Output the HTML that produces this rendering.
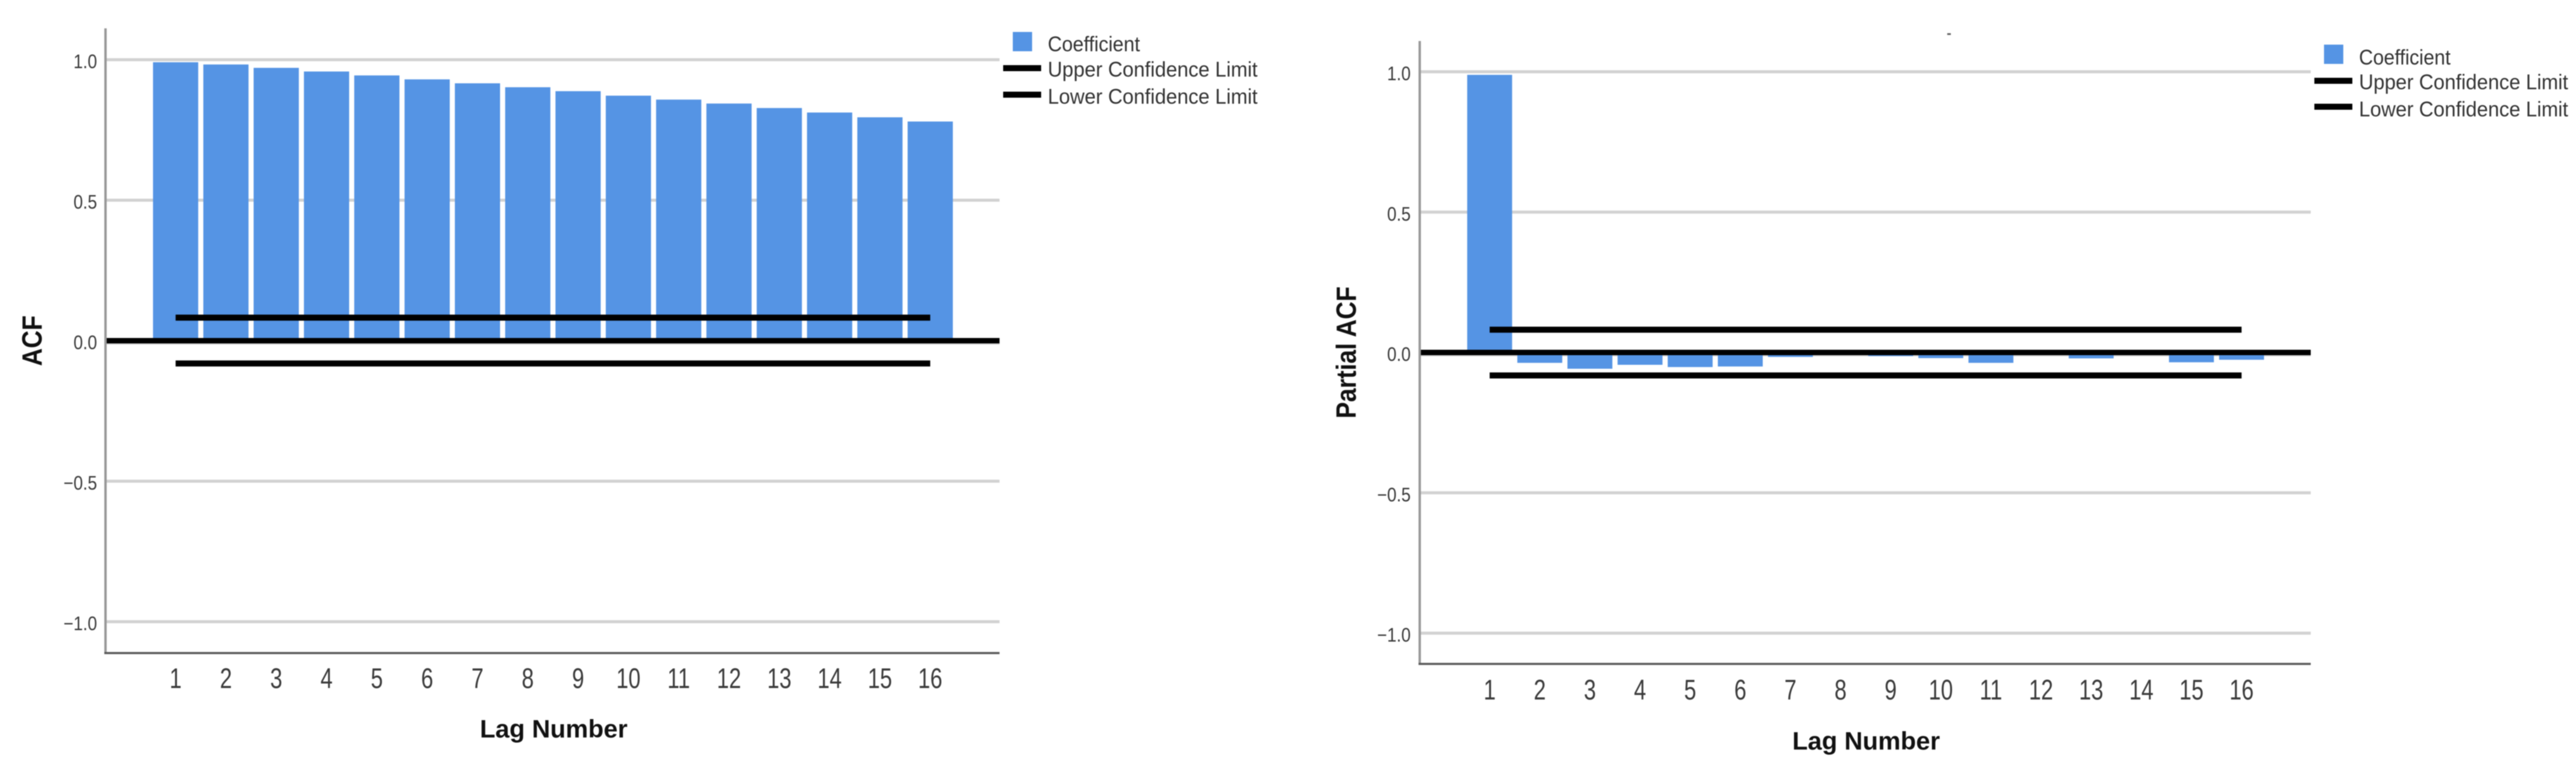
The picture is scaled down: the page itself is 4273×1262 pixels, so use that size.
<!DOCTYPE html>
<html lang="en">
<head>
<meta charset="utf-8">
<title>ACF and Partial ACF charts</title>
<style>
  html, body { margin: 0; padding: 0; background: #fff; width: 4273px; height: 1262px; overflow: hidden; }
  svg { display: block; filter: blur(0.9px); font-family: "Liberation Sans", Arial, sans-serif; }
  .tick { fill: #3a3a3a; }
  .legend-text { fill: #333; font-size: 35px; }
  .title { fill: #111; font-weight: bold; }
</style>
</head>
<body>
<svg id="figure" xmlns="http://www.w3.org/2000/svg" width="4273" height="1262" viewBox="0 0 4273 1262">
  <rect x="0" y="0" width="4273" height="1262" fill="#ffffff"/>
  <g id="acf-chart"></g>
  <g id="pacf-chart"></g>

  <g>
    <rect x="1680" y="53" width="32" height="32" fill="#5594e4"/>
    <text class="legend-text" x="1738" y="85" textLength="153" lengthAdjust="spacingAndGlyphs">Coefficient</text>
    <rect x="1664" y="108" width="63" height="10" fill="#000"/>
    <text class="legend-text" x="1738" y="127" textLength="348" lengthAdjust="spacingAndGlyphs">Upper Confidence Limit</text>
    <rect x="1664" y="152" width="63" height="10" fill="#000"/>
    <text class="legend-text" x="1738" y="172" textLength="348" lengthAdjust="spacingAndGlyphs">Lower Confidence Limit</text>
  </g>

  <g>
    <rect x="3855" y="74" width="32" height="32" fill="#5594e4"/>
    <text class="legend-text" x="3913" y="107" textLength="152" lengthAdjust="spacingAndGlyphs">Coefficient</text>
    <rect x="3839" y="129" width="63" height="10" fill="#000"/>
    <text class="legend-text" x="3913" y="148" textLength="347" lengthAdjust="spacingAndGlyphs">Upper Confidence Limit</text>
    <rect x="3839" y="172" width="63" height="10" fill="#000"/>
    <text class="legend-text" x="3913" y="193" textLength="347" lengthAdjust="spacingAndGlyphs">Lower Confidence Limit</text>
  </g>

  <text class="title" x="796" y="1223" font-size="42" textLength="245" lengthAdjust="spacingAndGlyphs">Lag Number</text>
  <text class="title" x="2973" y="1243" font-size="42" textLength="245" lengthAdjust="spacingAndGlyphs">Lag Number</text>
  <text class="title" transform="translate(69,607) rotate(-90)" font-size="46" textLength="84" lengthAdjust="spacingAndGlyphs">ACF</text>
  <text class="title" transform="translate(2249,694) rotate(-90)" font-size="46" textLength="219" lengthAdjust="spacingAndGlyphs">Partial ACF</text>
  <rect x="3230" y="55" width="6" height="3" fill="#666"/>
</svg>

<script>
const lags = [1, 2, 3, 4, 5, 6, 7, 8, 9, 10, 11, 12, 13, 14, 15, 16];
const yTickValues = [1.0, 0.5, 0.0, -0.5, -1.0];
const yTickLabels = ["1.0", "0.5", "0.0", "\u22120.5", "\u22121.0"];
const acfValues = [0.991, 0.983, 0.971, 0.958, 0.944, 0.930, 0.916, 0.902, 0.888, 0.872, 0.858, 0.844, 0.828, 0.812, 0.795, 0.780];
const acfUpper = [0.082, 0.082, 0.082, 0.082, 0.082, 0.082, 0.082, 0.082, 0.082, 0.082, 0.082, 0.082, 0.082, 0.082, 0.082, 0.082];
const acfLower = [-0.081, -0.081, -0.081, -0.081, -0.081, -0.081, -0.081, -0.081, -0.081, -0.081, -0.081, -0.081, -0.081, -0.081, -0.081, -0.081];
const pacfValues = [0.989, -0.037, -0.058, -0.044, -0.052, -0.050, -0.016, 0.002, -0.013, -0.020, -0.037, -0.002, -0.021, -0.003, -0.035, -0.026];
const pacfUpper = [0.081, 0.081, 0.081, 0.081, 0.081, 0.081, 0.081, 0.081, 0.081, 0.081, 0.081, 0.081, 0.081, 0.081, 0.081, 0.081];
const pacfLower = [-0.082, -0.082, -0.082, -0.082, -0.082, -0.082, -0.082, -0.082, -0.082, -0.082, -0.082, -0.082, -0.082, -0.082, -0.082, -0.082];

const SVG_NS = "http://www.w3.org/2000/svg";

function make(tag, parent, attrs) {
  const el = document.createElementNS(SVG_NS, tag);
  for (const key in attrs) el.setAttribute(key, attrs[key]);
  parent.appendChild(el);
  return el;
}

function drawChart(root, layout, values, upper, lower) {
  const xPos = function (lag) { return layout.firstX + (lag - lags[0]) * layout.pitch; };
  const yPos = function (v) { return layout.zeroY - v * layout.unitY; };

  // gridlines and y tick labels
  yTickValues.forEach(function (v, i) {
    const offset = v === 0 ? 2 : 0;
    const grid = make("line", root, {
      x1: layout.axisX, x2: layout.rightX, y1: yPos(v) + offset, y2: yPos(v) + offset,
      stroke: "#d2d2d2", "stroke-width": v === 0 ? 9 : 5
    });
    
    

    const label = make("text", root, {
      class: "tick", "font-size": 32, "text-anchor": "end",
      transform: "translate(" + layout.tickRight + "," + (yPos(v) + 14) + ") scale(0.88,1)"
    });
    label.textContent = yTickLabels[i];
    
    
  });

  // bars
  lags.forEach(function (lag, i) {
    const y0 = yPos(0);
    const yv = yPos(values[i]);
    const bar = make("rect", root, {
      x: xPos(lag) - layout.barWidth / 2,
      y: Math.min(y0, yv),
      width: layout.barWidth,
      height: Math.abs(y0 - yv),
      fill: "#5594e4"
    });
    
    

    const label = make("text", root, {
      class: "tick", "font-size": 47, "text-anchor": "middle",
      transform: "translate(" + xPos(lag) + "," + layout.xTickY + ") scale(0.77,1)"
    });
    label.textContent = String(lag);
    
    
  });

  // zero reference line
  const zero = make("line", root, {
    x1: layout.axisX, x2: layout.rightX, y1: yPos(0), y2: yPos(0),
    stroke: "#000", "stroke-width": 9
  });
  
  

  // confidence limits
  const toPoints = function (series) {
    return lags.map(function (lag, i) { return xPos(lag) + "," + yPos(series[i]); }).join(" ");
  };
  const upperLine = make("polyline", root, {
    points: toPoints(upper), fill: "none", stroke: "#000", "stroke-width": 10
  });
  
  

  const lowerLine = make("polyline", root, {
    points: toPoints(lower), fill: "none", stroke: "#000", "stroke-width": 10
  });
  
  

  // axes
  const yAxis = make("line", root, {
    x1: layout.axisX, x2: layout.axisX, y1: layout.axisTop, y2: layout.axisBottom + 1,
    stroke: "#999999", "stroke-width": 4
  });
  
  

  const xAxis = make("line", root, {
    x1: layout.axisX - 2, x2: layout.rightX, y1: layout.axisBottom, y2: layout.axisBottom,
    stroke: "#5a5a5a", "stroke-width": 3.5
  });
  
  
}

drawChart(document.getElementById("acf-chart"), {
  axisX: 175, rightX: 1658, axisTop: 47, axisBottom: 1083,
  zeroY: 565, unitY: 466, firstX: 291.3, pitch: 83.45, barWidth: 75,
  tickRight: 161, xTickY: 1141
}, acfValues, acfUpper, acfLower);

drawChart(document.getElementById("pacf-chart"), {
  axisX: 2355, rightX: 3833, axisTop: 68, axisBottom: 1101,
  zeroY: 584.5, unitY: 465.5, firstX: 2471, pitch: 83.15, barWidth: 74.5,
  tickRight: 2340, xTickY: 1160
}, pacfValues, pacfUpper, pacfLower);
</script>
</body>
</html>
